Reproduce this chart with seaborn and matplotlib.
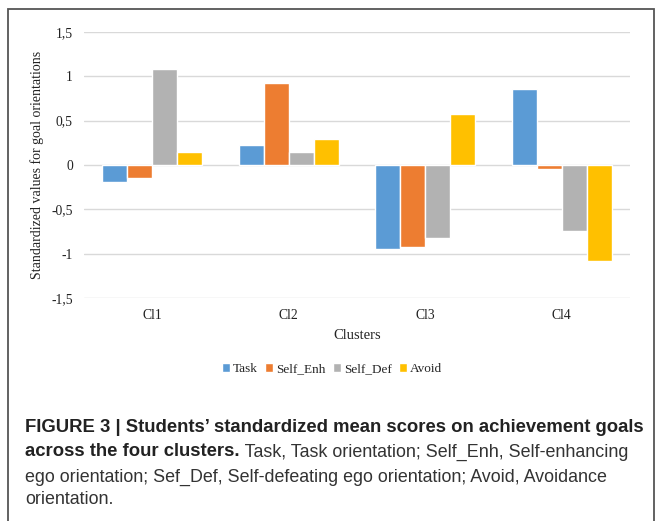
import pandas as pd
import matplotlib
matplotlib.use("Agg")
import matplotlib.pyplot as plt
from matplotlib.patches import Rectangle
import seaborn as sns

# data
clusters = ["Cl1", "Cl2", "Cl3", "Cl4"]
orientations = ["Task", "Self_Enh", "Self_Def", "Avoid"]
task = [-0.19, 0.22, -0.95, 0.86]
self_enh = [-0.15, 0.92, -0.93, -0.05]
self_def = [1.08, 0.15, -0.82, -0.74]
avoid = [0.15, 0.29, 0.57, -1.08]
yticks = [-1.5, -1, -0.5, 0, 0.5, 1, 1.5]
ytick_labels = ["-1,5", "-1", "-0,5", "0", "0,5", "1", "1,5"]
colors = ["#5B9BD5", "#ED7D31", "#B2B2B2", "#FFC000"]

caption_bold_1 = "FIGURE 3 | Students\u2019 standardized mean scores on achievement goals"
caption_bold_2 = "across the four clusters."
caption_rest_2 = " Task, Task orientation; Self_Enh, Self-enhancing"
caption_3 = "ego orientation; Sef_Def, Self-defeating ego orientation; Avoid, Avoidance"
caption_4 = "orientation."

rows = []
for name, vals in zip(orientations, [task, self_enh, self_def, avoid]):
    for c, v in zip(clusters, vals):
        rows.append({"cluster": c, "orientation": name, "value": v})
df = pd.DataFrame(rows)

sns.set_style("white")
plt.rcParams["font.family"] = ["Liberation Serif", "DejaVu Serif"]

fig = plt.figure(figsize=(6.57, 5.21), dpi=100)
ax = fig.add_axes([84 / 657, 1 - 298 / 521, 546 / 657, 266 / 521])

sns.barplot(data=df, x="cluster", y="value", hue="orientation",
            hue_order=orientations, palette=colors, width=0.73,
            saturation=1, ax=ax, legend=True, zorder=3)

ax.set_ylim(-1.5, 1.5)
ax.set_xlim(-0.5, 3.5)
ax.set_yticks(yticks)
ax.set_yticklabels(ytick_labels)
ax.yaxis.grid(True, color="#D9D9D9", lw=1.0, zorder=0)
ax.set_axisbelow(True)
for s in ax.spines.values():
    s.set_visible(False)
ax.tick_params(axis="both", length=0, labelsize=9.8, colors="#222222")
ax.tick_params(axis="y", pad=8)
ax.tick_params(axis="x", pad=8)
ax.set_xlabel("Clusters", fontsize=10.5, labelpad=5, color="#222222")
ax.set_ylabel("Standardized values for goal orientations", fontsize=10, color="#222222")
ax.yaxis.set_label_coords(-0.073, 0.5)

handles, labels = ax.get_legend_handles_labels()
ax.legend(handles, labels, loc="center", bbox_to_anchor=(332 / 657, 1 - 369 / 521),
          bbox_transform=fig.transFigure, ncol=4, frameon=False, fontsize=9.5,
          handlelength=0.6, handleheight=0.6, handletextpad=0.2, columnspacing=0.6)

# outer frame
fig.patches.append(Rectangle((8 / 657, -0.01), 646 / 657, 1.0 - 9 / 521 + 0.01,
                             transform=fig.transFigure, fill=False,
                             edgecolor="#555555", lw=1.3))

cap_font = ["Liberation Sans", "DejaVu Sans"]
x0 = 25 / 657
fig.text(x0, 1 - 428 / 521, caption_bold_1, fontsize=13.3, fontweight="bold",
         family=cap_font, va="center", color="#222222")
t = fig.text(x0, 1 - 452 / 521, caption_bold_2, fontsize=13.3, fontweight="bold",
             family=cap_font, va="center", color="#222222")
fig.canvas.draw()
bb = t.get_window_extent()
fig.text(bb.x1 / fig.bbox.width, 1 - 452 / 521, caption_rest_2, fontsize=12.9,
         family=cap_font, va="center", color="#333333")
fig.text(x0, 1 - 477 / 521, caption_3, fontsize=12.9, family=cap_font,
         va="center", color="#333333")
fig.text(x0, 1 - 500 / 521, caption_4, fontsize=12.9, family=cap_font,
         va="center", color="#333333")

fig.savefig("out.png", dpi=100)
